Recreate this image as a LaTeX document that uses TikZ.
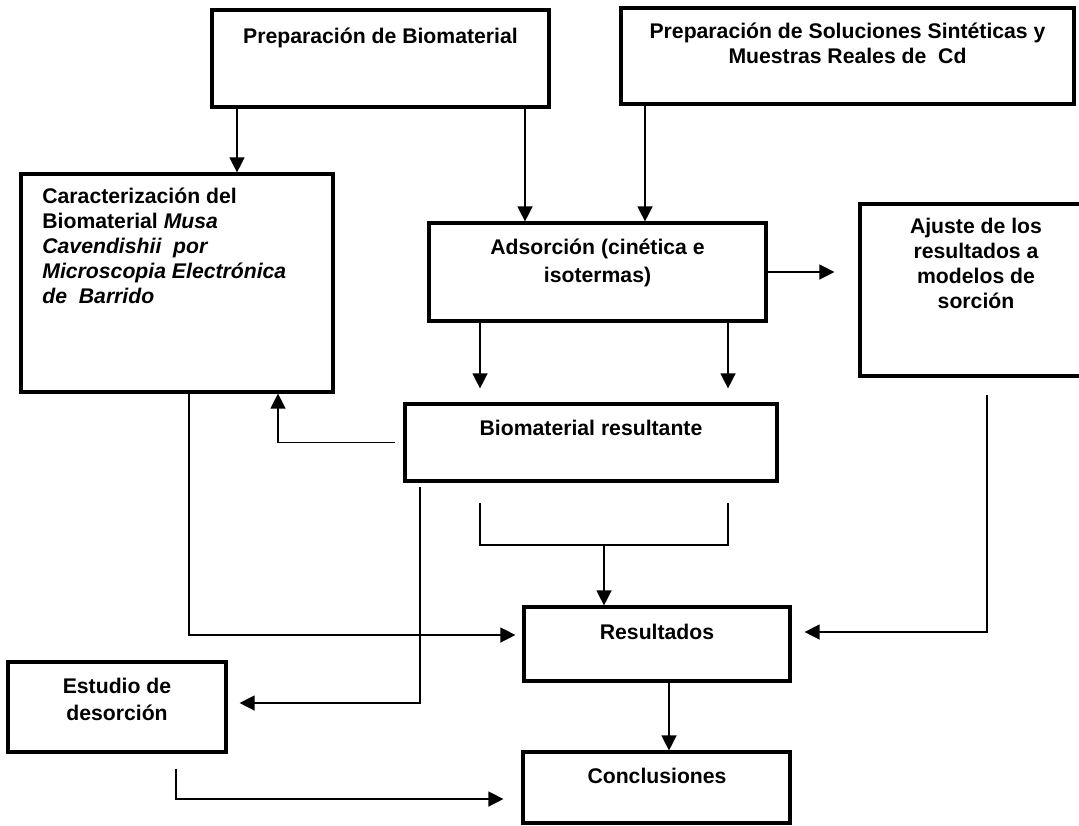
\documentclass[tikz,border=0pt]{standalone}
\usepackage{fontspec}
\setmainfont{Liberation Sans}
\usetikzlibrary{arrows.meta,calc}
\begin{document}
\begin{tikzpicture}[x=0.5pt,y=-0.5pt]
\tikzset{
 box/.style={draw=black, line width=1.6pt, inner sep=0pt},
 lbl/.style={inner sep=0pt, font=\fontsize{10.6}{12.4}\selectfont\bfseries, anchor=base},
 conn/.style={line width=0.7pt},
 arr/.style={conn, -{Triangle[length=7.5pt,width=7.5pt]}},
}
\useasboundingbox (0,0) rectangle (1079,825);
\fill[white] (0,0) rectangle (1079,825);
\clip (0,0) rectangle (1079,825);

% boxes (multi-line labels are anchored at the baseline of their last line)
\node[box, minimum width=168.5pt, minimum height=48.5pt] (prepbio) at (380.5,58.5) {};
\node[lbl] (tprepbio) at (380.5,43) {Preparación de Biomaterial};
\node[box, minimum width=226.5pt, minimum height=48pt] (prepsol) at (847.5,56) {};
\node[lbl, align=center] (tprepsol) at (847.5,63) {Preparación de Soluciones Sintéticas y\\Muestras Reales de\ \ Cd};
\node[box, minimum width=156pt, minimum height=109pt] (caract) at (177,283) {};
\node[lbl, align=left, anchor=base west] (tcaract) at (42,303) {Caracterización del\\Biomaterial \textit{Musa}\\\textit{Cavendishii\ \ por}\\\textit{Microscopia Electrónica}\\\textit{de\ \ Barrido}};
\node[box, minimum width=168.5pt, minimum height=49pt] (ads) at (597.5,272) {};
\node[lbl, align=center, font=\fontsize{10.6}{14}\selectfont\bfseries] (tads) at (597.5,282) {Adsorción (cinética e\\isotermas)};
\node[box, minimum width=116pt, minimum height=86pt] (ajuste) at (976,290) {};
\node[lbl, align=center] (tajuste) at (976,308) {Ajuste de los\\resultados a\\modelos de\\sorción};
\node[box, minimum width=186pt, minimum height=38.5pt] (biores) at (591,442.5) {};
\node[lbl] (tbiores) at (591,435) {Biomaterial resultante};
\node[box, minimum width=133pt, minimum height=37pt] (result) at (657,644) {};
\node[lbl] (tresult) at (657,639) {Resultados};
\node[box, minimum width=109pt, minimum height=45pt] (estudio) at (117,707) {};
\node[lbl, align=center, font=\fontsize{10.6}{13.5}\selectfont\bfseries] (testudio) at (117,720) {Estudio de\\desorción};
\node[box, minimum width=133.5pt, minimum height=35.5pt] (concl) at (656.5,787.5) {};
\node[lbl] (tconcl) at (657,783) {Conclusiones};

% helper coordinates
\coordinate (x237) at (237,0);
\coordinate (x525) at (525,0);
\coordinate (x645) at (645,0);
\coordinate (x480) at (480,0);
\coordinate (x728) at (728,0);
\coordinate (x278) at (278,0);
\coordinate (x669) at (669,0);
\coordinate (k1) at (189,635);
\coordinate (k2) at (420,703);
\coordinate (k3) at (987,632);
\coordinate (k4) at (176,799);
\coordinate (bl) at (480,503);
\coordinate (br) at (728,503);
\coordinate (bm) at (604,545);

% connectors
\draw[arr] (prepbio.south -| x237) -- (caract.north -| x237);
\draw[arr] (prepbio.south -| x525) -- (ads.north -| x525);
\draw[arr] (prepsol.south -| x645) -- (ads.north -| x645);
\draw[arr, shorten >=12pt] (ads.east) -- (ajuste.west |- ads.east);
\draw[arr, shorten >=7pt] (ads.south -| x480) -- (biores.north -| x480);
\draw[arr, shorten >=7pt] (ads.south -| x728) -- (biores.north -| x728);
\draw[arr, shorten <=4pt] (biores.west) -| (caract.south -| x278);
\draw[arr, shorten >=3.5pt] (caract.south -| k1) |- (result.west |- k1);
\draw[arr, shorten <=2pt, shorten >=6pt] (biores.south -| k2) |- (estudio.east |- k2);
\draw[conn] (bl) |- (bm) -| (br);
\draw[arr] (bm) -- (result.north -| bm);
\draw[arr, shorten <=8.5pt, shorten >=6.5pt] (ajuste.south -| k3) |- (result.east |- k3);
\draw[arr] (result.south -| x669) -- (concl.north -| x669);
\draw[arr, shorten <=7.5pt, shorten >=9pt] (estudio.south -| k4) |- (concl.west |- k4);
\end{tikzpicture}
\end{document}
